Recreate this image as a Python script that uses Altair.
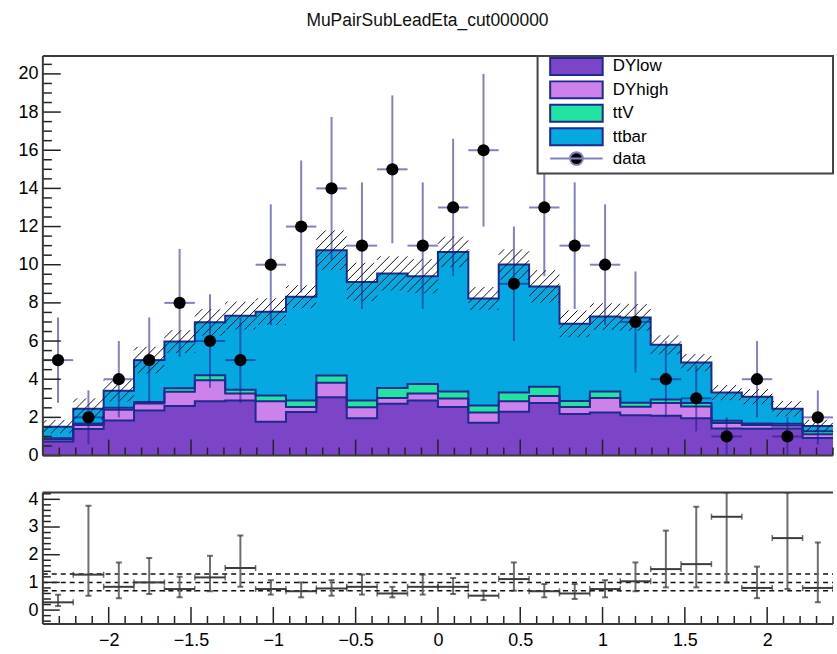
import altair as alt
import numpy as np
import pandas as pd

FONT = "Liberation Sans"
TITLE = "MuPairSubLeadEta_cut000000"

# binning of the subleading-muon eta histogram
X_MIN, X_MAX, N_BINS = -2.4, 2.4, 26
Y_MAX = 20.94
R_MIN, R_MAX = -0.5, 4.25

# panel sizes (plot areas)
W, H_TOP, H_BOT = 793, 401, 132

processes = ["DYlow", "DYhigh", "ttV", "ttbar"]
fill_colors = ["#7c45c7", "#cd81eb", "#20e4a0", "#06a8e2"]
OUTLINE = "#1f2a8e"
DATA_BAR = "#1a1a8c"

# stacked MC contributions per bin
dylow = [0.74, 1.39, 1.84, 2.36, 2.60, 2.85, 2.88, 1.77, 2.28, 3.06, 1.95, 2.71, 2.89,
         2.54, 1.72, 2.30, 2.75, 2.18, 2.25, 2.11, 2.08, 1.95, 1.42, 1.40, 1.42, 0.92]
dyhigh = [0.11, 0.21, 0.56, 0.37, 0.74, 1.10, 0.37, 1.07, 0.26, 0.76, 0.58, 0.30, 0.36,
          0.45, 0.53, 0.54, 0.37, 0.36, 0.76, 0.45, 0.67, 0.62, 0.29, 0.20, 0.15, 0.20]
ttv = [0.05, 0.08, 0.10, 0.07, 0.19, 0.26, 0.20, 0.30, 0.34, 0.37, 0.36, 0.53, 0.50,
       0.37, 0.37, 0.46, 0.48, 0.32, 0.35, 0.21, 0.19, 0.18, 0.11, 0.08, 0.09, 0.15]
ttbar = [0.61, 0.77, 0.89, 2.20, 2.44, 2.77, 3.88, 4.40, 5.44, 6.57, 6.21, 6.00, 5.65,
         7.31, 5.61, 6.71, 5.26, 4.04, 3.92, 4.47, 2.86, 2.12, 1.48, 1.40, 0.79, 0.28]
# uncertainty on the total MC (hatched band)
mc_unc = [0.35, 0.55, 0.56, 0.70, 0.60, 0.70, 0.73, 0.70, 0.60, 1.04, 1.00, 0.90, 0.90,
          0.80, 0.60, 0.80, 0.85, 0.70, 0.70, 0.70, 0.50, 0.45, 0.40, 0.40, 0.40, 0.33]
# observed events
data_counts = [5, 2, 4, 5, 8, 6, 5, 10, 12, 14, 11, 15, 11, 13, 16, 9, 13, 11, 10, 7,
               4, 3, 1, 4, 1, 2]
# ratio panel: MC / data with its error bar limits
ratio = [0.28, 1.28, 0.84, 1.00, 0.76, 1.18, 1.52, 0.76, 0.68, 0.78, 0.84, 0.60, 0.84,
         0.84, 0.52, 1.12, 0.68, 0.60, 0.76, 1.04, 1.48, 1.66, 3.37, 0.80, 2.60, 0.80]
ratio_lo = [0.15, 0.52, 0.43, 0.58, 0.46, 0.68, 0.84, 0.56, 0.46, 0.52, 0.56, 0.46, 0.56,
            0.58, 0.36, 0.70, 0.46, 0.40, 0.46, 0.68, 0.82, 0.82, 1.00, 0.43, 0.76, 0.28]
ratio_hi = [0.55, 3.77, 1.72, 1.88, 1.20, 1.96, 2.69, 1.08, 1.00, 1.08, 1.28, 0.84, 1.28,
            1.16, 0.70, 1.72, 0.94, 0.94, 1.08, 1.72, 2.87, 3.73, 4.25, 1.57, 4.25, 2.44]
ratio_refs = [0.7, 1.0, 1.3]

# axis tick values
y_labels_top = list(range(0, 21, 2))
y_labels_bot = [0, 1, 2, 3, 4]
x_labels = [-2, -1.5, -1, -0.5, 0, 0.5, 1, 1.5, 2]

edges = np.linspace(X_MIN, X_MAX, N_BINS + 1)
centers = 0.5 * (edges[:-1] + edges[1:])

xs = alt.Scale(domain=[X_MIN, X_MAX], nice=False, zero=False)
ys_top = alt.Scale(domain=[0, Y_MAX], nice=False, zero=False)
ys_bot = alt.Scale(domain=[R_MIN, R_MAX], nice=False, zero=False)


def label_axis(values, pad, fmt=None):
    kw = dict(values=values, ticks=False, tickSize=0, domain=False, grid=False,
              labelPadding=pad, title=None)
    if fmt:
        kw["format"] = fmt
    return alt.Axis(**kw)


AX_TOP_Y = label_axis(y_labels_top, 5)
AX_BOT_Y = label_axis(y_labels_bot, 5)
AX_BOT_X = label_axis(x_labels, 8, "~g")


def X(field, axis=None):
    return alt.X(field, type="quantitative", scale=xs, axis=axis)


def Y(field, scale, axis):
    return alt.Y(field, type="quantitative", scale=scale, axis=axis)


one = pd.DataFrame({"k": [0]})

# ---------------- stacked histogram ----------------
rows, cum = [], np.zeros(N_BINS)
for name, vals in zip(processes, [dylow, dyhigh, ttv, ttbar]):
    hi = cum + np.array(vals)
    for j in range(N_BINS + 1):
        k = min(j, N_BINS - 1)
        rows.append({"process": name, "x": edges[j], "lo": cum[k], "hi": hi[k]})
    cum = hi
stack_df = pd.DataFrame(rows)
total = cum

fills = alt.Chart(stack_df).mark_area(interpolate="step-after").encode(
    x=X("x"),
    y=alt.Y("hi:Q", scale=ys_top, stack=None, axis=AX_TOP_Y),
    y2="lo:Q",
    fill=alt.Fill("process:N", scale=alt.Scale(domain=processes, range=fill_colors),
                  legend=None),
)
outlines = alt.Chart(stack_df).mark_line(
    interpolate="step-after", color=OUTLINE, strokeWidth=2
).encode(x=X("x"), y=Y("hi", ys_top, AX_TOP_Y), detail="process:N")

# hatched uncertainty band: diagonal strokes clipped to each bin's band
sx = W / (X_MAX - X_MIN)
sy = H_TOP / Y_MAX
STEP = 9.0
hatch = []
for i in range(N_BINS):
    x0p = (edges[i] - X_MIN) * sx
    x1p = (edges[i + 1] - X_MIN) * sx
    ytp = H_TOP - (total[i] + mc_unc[i]) * sy
    ybp = H_TOP - (total[i] - mc_unc[i]) * sy
    c = np.ceil((x0p + ytp) / STEP) * STEP
    while c <= x1p + ybp:
        xa, xb = max(x0p, c - ybp), min(x1p, c - ytp)
        if xb > xa + 0.5:
            hatch.append({"x": X_MIN + xa / sx, "x2": X_MIN + xb / sx,
                          "y": (H_TOP - (c - xa)) / sy, "y2": (H_TOP - (c - xb)) / sy})
        c += STEP
hatch_df = pd.DataFrame(hatch)
band = alt.Chart(hatch_df).mark_rule(color="#111111", strokeWidth=1).encode(
    x=X("x"), x2="x2", y=Y("y", ys_top, AX_TOP_Y), y2="y2"
)

# data points with sqrt(N) errors
n = np.array(data_counts, dtype=float)
data_df = pd.DataFrame({"x": centers, "x0": edges[:-1], "x1": edges[1:], "n": n,
                        "lo": n - np.sqrt(n), "hi": n + np.sqrt(n)})
d_vert = alt.Chart(data_df).mark_rule(color=DATA_BAR, opacity=0.55, strokeWidth=2).encode(
    x=X("x"), y=Y("lo", ys_top, AX_TOP_Y), y2="hi")
d_horz = alt.Chart(data_df).mark_rule(color=DATA_BAR, opacity=0.55, strokeWidth=2).encode(
    x=X("x0"), x2="x1", y=Y("n", ys_top, AX_TOP_Y))
d_pts = alt.Chart(data_df).mark_circle(size=150, color="black", opacity=1).encode(
    x=X("x"), y=Y("n", ys_top, AX_TOP_Y))

# inward ROOT-style ticks
x_major = [float(v) for v in np.round(np.arange(-2.0, 2.001, 0.5), 2)]
x_minor = [float(v) for v in np.round(np.arange(-2.4, 2.401, 0.1), 2)
           if not np.isclose(v * 2, round(v * 2))]
top_y_minor = [float(v) for v in np.arange(0.5, Y_MAX, 0.5) if v % 2 != 0]
bot_y_minor = [float(v) for v in np.round(np.arange(-0.4, R_MAX, 0.2), 2)
               if not np.isclose(v, round(v))]


def left_ticks(values, scale, axis, length):
    return alt.Chart(pd.DataFrame({"v": values})).mark_rule(
        color="#222222", strokeWidth=1.5).encode(
        y=Y("v", scale, axis), x=alt.value(0), x2=alt.value(length))


def bottom_ticks(values, height, length, axis=None):
    return alt.Chart(pd.DataFrame({"v": values})).mark_rule(
        color="#222222", strokeWidth=1.5).encode(
        x=X("v", axis), y=alt.value(height), y2=alt.value(height - length))


def frame(height):
    base = alt.Chart(one).mark_rule(color="#3a3a3a", strokeWidth=2)
    return [
        base.encode(x=alt.value(0), x2=alt.value(W), y=alt.value(0)),
        base.encode(x=alt.value(0), x2=alt.value(W), y=alt.value(height)),
        base.encode(x=alt.value(0), y=alt.value(0), y2=alt.value(height)),
    ]


# legend
legend_names = processes + ["data"]
box_path = "M-3.1,-1H3.1V1H-3.1Z"
data_path = "M-3.1,0H3.1M-0.76,0A0.76,0.76,0,1,1,0.76,0A0.76,0.76,0,1,1,-0.76,0Z"
leg = alt.Legend(
    title=None, orient="none", legendX=496.5, legendY=1, direction="vertical",
    symbolSize=289, symbolStrokeWidth=2, symbolOpacity=1, symbolOffset=29.5,
    labelOffset=27, labelFont=FONT, labelFontSize=17, labelColor="black",
    rowPadding=-1.5, padding=0,
)
legend_layer = alt.Chart(pd.DataFrame({"process": legend_names})).mark_point(
    filled=True, opacity=0).encode(
    x=alt.value(0), y=alt.value(0),
    color=alt.Color("process:N", scale=alt.Scale(domain=legend_names,
                                                 range=fill_colors + ["black"]), legend=leg),
    stroke=alt.Stroke("process:N", scale=alt.Scale(domain=legend_names,
                                                   range=[OUTLINE] * 4 + ["#8282c2"]), legend=leg),
    shape=alt.Shape("process:N", scale=alt.Scale(domain=legend_names,
                                                 range=[box_path] * 4 + [data_path]), legend=leg),
)
legend_box = alt.Chart(one).mark_rect(fill="white", stroke="#444444", strokeWidth=2).encode(
    x=alt.value(496.5), x2=alt.value(W), y=alt.value(0), y2=alt.value(118))

title_text = alt.Chart(one).mark_text(
    text=TITLE, font=FONT, fontSize=17.5, align="center", baseline="middle", color="#111111"
).encode(x=alt.value(386), y=alt.value(-35))
anchor = alt.Chart(one).mark_rect(opacity=0).encode(
    x=alt.value(-43), x2=alt.value(0), y=alt.value(-55), y2=alt.value(0))

top = alt.layer(
    fills, outlines, band, d_vert, d_horz, d_pts,
    left_ticks(y_labels_top, ys_top, AX_TOP_Y, 18), left_ticks(top_y_minor, ys_top, AX_TOP_Y, 9),
    bottom_ticks(x_major, H_TOP, 16), bottom_ticks(x_minor, H_TOP, 8),
    *frame(H_TOP), legend_box, legend_layer, title_text, anchor,
).properties(width=W, height=H_TOP)

# ---------------- ratio panel ----------------
r_df = pd.DataFrame({"x": centers, "x0": edges[:-1], "x1": edges[1:], "r": ratio,
                     "lo": ratio_lo, "hi": ratio_hi})
refs = alt.Chart(pd.DataFrame({"v": ratio_refs})).mark_rule(
    color="#111111", strokeWidth=1.5, strokeDash=[5, 4]).encode(
    y=Y("v", ys_bot, AX_BOT_Y), x=alt.value(0), x2=alt.value(W))
r_vert = alt.Chart(r_df).mark_rule(color="#6e6e6e", strokeWidth=2, clip=True).encode(
    x=X("x", AX_BOT_X), y=Y("lo", ys_bot, AX_BOT_Y), y2="hi")
r_horz = alt.Chart(r_df).mark_rule(color="#3c3c3c", strokeWidth=2).encode(
    x=X("x0", AX_BOT_X), x2="x1", y=Y("r", ys_bot, AX_BOT_Y))
cap = dict(color="#333333", clip=True)
r_cap_lo = alt.Chart(r_df).mark_tick(orient="horizontal", size=6, thickness=2, **cap).encode(
    x=X("x", AX_BOT_X), y=Y("lo", ys_bot, AX_BOT_Y))
r_cap_hi = alt.Chart(r_df).mark_tick(orient="horizontal", size=6, thickness=2, **cap).encode(
    x=X("x", AX_BOT_X), y=Y("hi", ys_bot, AX_BOT_Y))
r_cap_l = alt.Chart(r_df).mark_tick(orient="vertical", size=6, thickness=1.5, **cap).encode(
    x=X("x0", AX_BOT_X), y=Y("r", ys_bot, AX_BOT_Y))
r_cap_r = alt.Chart(r_df).mark_tick(orient="vertical", size=6, thickness=1.5, **cap).encode(
    x=X("x1", AX_BOT_X), y=Y("r", ys_bot, AX_BOT_Y))

bottom = alt.layer(
    refs, r_vert, r_horz, r_cap_lo, r_cap_hi, r_cap_l, r_cap_r,
    left_ticks(y_labels_bot, ys_bot, AX_BOT_Y, 17),
    left_ticks(bot_y_minor, ys_bot, AX_BOT_Y, 8),
    bottom_ticks(x_major, H_BOT, 17, AX_BOT_X), bottom_ticks(x_minor, H_BOT, 8, AX_BOT_X),
    *frame(H_BOT),
).properties(width=W, height=H_BOT)

chart = alt.vconcat(top, bottom, spacing=25).properties(
    padding=0, background="white"
).configure_view(stroke=None).configure_axis(
    labelFont=FONT, labelFontSize=18, labelColor="black"
)

chart.save("out.html", embed_options={"renderer": "svg", "actions": False})
